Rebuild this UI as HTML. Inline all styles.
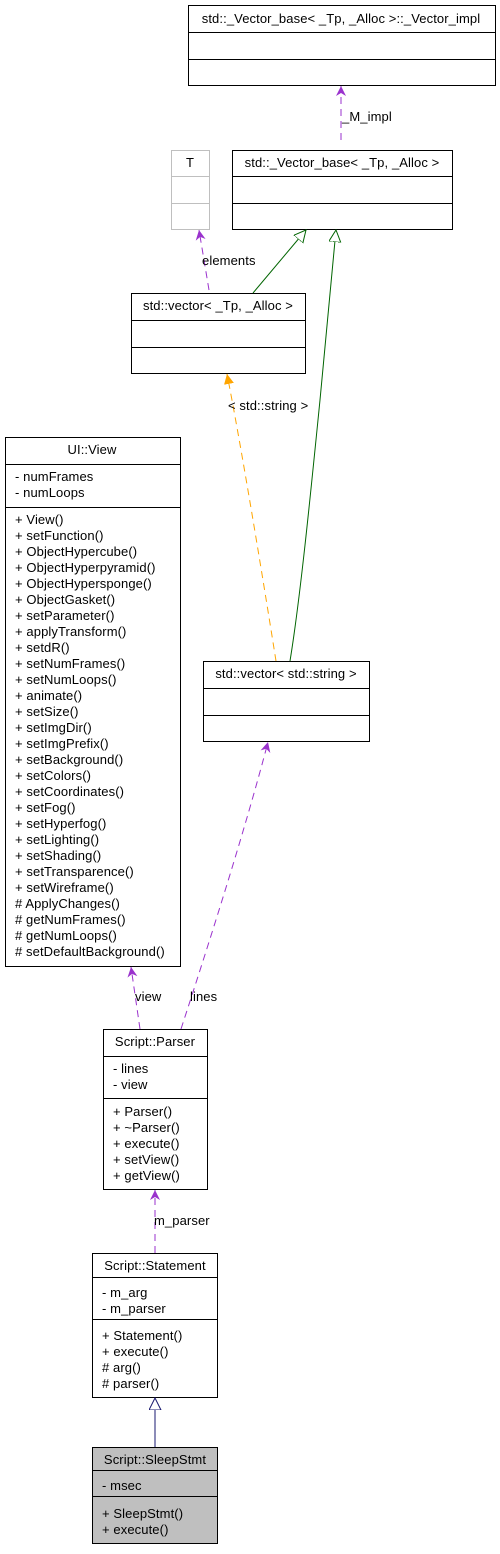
<!DOCTYPE html>
<html><head><meta charset="utf-8"><style>
html,body{margin:0;padding:0;background:#fff}
svg text{font-family:"Liberation Sans",sans-serif;font-size:13px;letter-spacing:0.1px;fill:#000}
</style></head><body>
<svg width="500" height="1549" viewBox="0 0 500 1549" xmlns="http://www.w3.org/2000/svg">
<defs>
<marker id="pa" markerWidth="12" markerHeight="12" refX="10" refY="5" orient="auto" markerUnits="userSpaceOnUse"><path d="M0,0 L10,5 L0,10 L3,5 Z" fill="#9a32cd"/></marker>
<marker id="oa" markerWidth="12" markerHeight="12" refX="10" refY="5" orient="auto" markerUnits="userSpaceOnUse"><path d="M0,0 L10,5 L0,10 Z" fill="#ffa500"/></marker>
<marker id="ga" markerWidth="14" markerHeight="14" refX="12" refY="6" orient="auto" markerUnits="userSpaceOnUse"><path d="M0,0 L12,6 L0,12 Z" fill="#fff" stroke="#006400"/></marker>
<marker id="na" markerWidth="14" markerHeight="14" refX="12" refY="6" orient="auto" markerUnits="userSpaceOnUse"><path d="M0,0 L12,6 L0,12 Z" fill="#fff" stroke="#191970"/></marker>
</defs>
<g fill="#fff" stroke="#000" stroke-width="1">
<rect x="188.5" y="5.5" width="307" height="80"/><line x1="188" y1="32.5" x2="495" y2="32.5"/><line x1="188" y1="59.5" x2="495" y2="59.5"/>
<rect x="171.5" y="150.5" width="38" height="79" stroke="#bfbfbf"/><line x1="171" y1="176.5" x2="209" y2="176.5" stroke="#bfbfbf"/><line x1="171" y1="203.5" x2="209" y2="203.5" stroke="#bfbfbf"/>
<rect x="232.5" y="150.5" width="220" height="79"/><line x1="232" y1="176.5" x2="452" y2="176.5"/><line x1="232" y1="203.5" x2="452" y2="203.5"/>
<rect x="131.5" y="293.5" width="174" height="80"/><line x1="131" y1="320.5" x2="305" y2="320.5"/><line x1="131" y1="347.5" x2="305" y2="347.5"/>
<rect x="5.5" y="437.5" width="175" height="529"/><line x1="5" y1="464.5" x2="180" y2="464.5"/><line x1="5" y1="507.5" x2="180" y2="507.5"/>
<rect x="203.5" y="661.5" width="166" height="80"/><line x1="203" y1="688.5" x2="369" y2="688.5"/><line x1="203" y1="715.5" x2="369" y2="715.5"/>
<rect x="103.5" y="1029.5" width="104" height="160"/><line x1="103" y1="1056.5" x2="207" y2="1056.5"/><line x1="103" y1="1098.5" x2="207" y2="1098.5"/>
<rect x="92.5" y="1253.5" width="125" height="144"/><line x1="92" y1="1277.5" x2="217" y2="1277.5"/><line x1="92" y1="1319.5" x2="217" y2="1319.5"/>
<rect x="92.5" y="1447.5" width="125" height="96" fill="#bfbfbf"/><line x1="92" y1="1470.5" x2="217" y2="1470.5"/><line x1="92" y1="1496.5" x2="217" y2="1496.5"/>
</g>
<g fill="none" stroke-width="1">
<path d="M341,140 L341,86" stroke="#9a32cd" stroke-dasharray="7,5" marker-end="url(#pa)"/>
<path d="M209,290 L199,230" stroke="#9a32cd" stroke-dasharray="7,5" marker-end="url(#pa)"/>
<path d="M253,293 L306,230" stroke="#006400" marker-end="url(#ga)"/>
<path d="M290,661 C300,600 310,500 320,400 C328,320 333,260 336,230" stroke="#006400" marker-end="url(#ga)"/>
<path d="M276,661 C260,560 240,440 227,374" stroke="#ffa500" stroke-dasharray="7,5" marker-end="url(#oa)"/>
<path d="M181,1029 C210,940 245,830 268,742" stroke="#9a32cd" stroke-dasharray="7,5" marker-end="url(#pa)"/>
<path d="M140,1029 L131,967" stroke="#9a32cd" stroke-dasharray="7,5" marker-end="url(#pa)"/>
<path d="M155,1253 L155,1190" stroke="#9a32cd" stroke-dasharray="7,5" marker-end="url(#pa)"/>
<path d="M155,1447 L155,1398" stroke="#191970" marker-end="url(#na)"/>
</g>
<text x="341" y="23" text-anchor="middle">std::_Vector_base&lt; _Tp, _Alloc &gt;::_Vector_impl</text>
<text x="190" y="167" text-anchor="middle">T</text>
<text x="342" y="167" text-anchor="middle">std::_Vector_base&lt; _Tp, _Alloc &gt;</text>
<text x="218" y="310" text-anchor="middle">std::vector&lt; _Tp, _Alloc &gt;</text>
<text x="92" y="454" text-anchor="middle">UI::View</text>
<text x="286" y="678" text-anchor="middle">std::vector&lt; std::string &gt;</text>
<text x="155" y="1046" text-anchor="middle">Script::Parser</text>
<text x="155" y="1270" text-anchor="middle">Script::Statement</text>
<text x="155" y="1464" text-anchor="middle">Script::SleepStmt</text>
<text x="342" y="121">_M_impl</text>
<text x="202" y="265">elements</text>
<text x="228" y="410">&lt; std::string &gt;</text>
<text x="190" y="1001">lines</text>
<text x="135" y="1001">view</text>
<text x="154" y="1225">m_parser</text>
<g>
<text x="15" y="481">- numFrames</text><text x="15" y="497">- numLoops</text>
<text x="15" y="524">+ View()</text><text x="15" y="540">+ setFunction()</text><text x="15" y="556">+ ObjectHypercube()</text><text x="15" y="572">+ ObjectHyperpyramid()</text><text x="15" y="588">+ ObjectHypersponge()</text><text x="15" y="604">+ ObjectGasket()</text><text x="15" y="620">+ setParameter()</text><text x="15" y="636">+ applyTransform()</text><text x="15" y="652">+ setdR()</text><text x="15" y="668">+ setNumFrames()</text><text x="15" y="684">+ setNumLoops()</text><text x="15" y="700">+ animate()</text><text x="15" y="716">+ setSize()</text><text x="15" y="732">+ setImgDir()</text><text x="15" y="748">+ setImgPrefix()</text><text x="15" y="764">+ setBackground()</text><text x="15" y="780">+ setColors()</text><text x="15" y="796">+ setCoordinates()</text><text x="15" y="812">+ setFog()</text><text x="15" y="828">+ setHyperfog()</text><text x="15" y="844">+ setLighting()</text><text x="15" y="860">+ setShading()</text><text x="15" y="876">+ setTransparence()</text><text x="15" y="892">+ setWireframe()</text><text x="15" y="908"># ApplyChanges()</text><text x="15" y="924"># getNumFrames()</text><text x="15" y="940"># getNumLoops()</text><text x="15" y="956"># setDefaultBackground()</text>
<text x="113" y="1073">- lines</text><text x="113" y="1089">- view</text>
<text x="113" y="1116">+ Parser()</text><text x="113" y="1132">+ ~Parser()</text><text x="113" y="1148">+ execute()</text><text x="113" y="1164">+ setView()</text><text x="113" y="1180">+ getView()</text>
<text x="102" y="1297">- m_arg</text><text x="102" y="1313">- m_parser</text>
<text x="102" y="1340">+ Statement()</text><text x="102" y="1356">+ execute()</text><text x="102" y="1372"># arg()</text><text x="102" y="1388"># parser()</text>
<text x="102" y="1490">- msec</text>
<text x="102" y="1518">+ SleepStmt()</text><text x="102" y="1534">+ execute()</text>
</g>
</svg>
</body></html>
